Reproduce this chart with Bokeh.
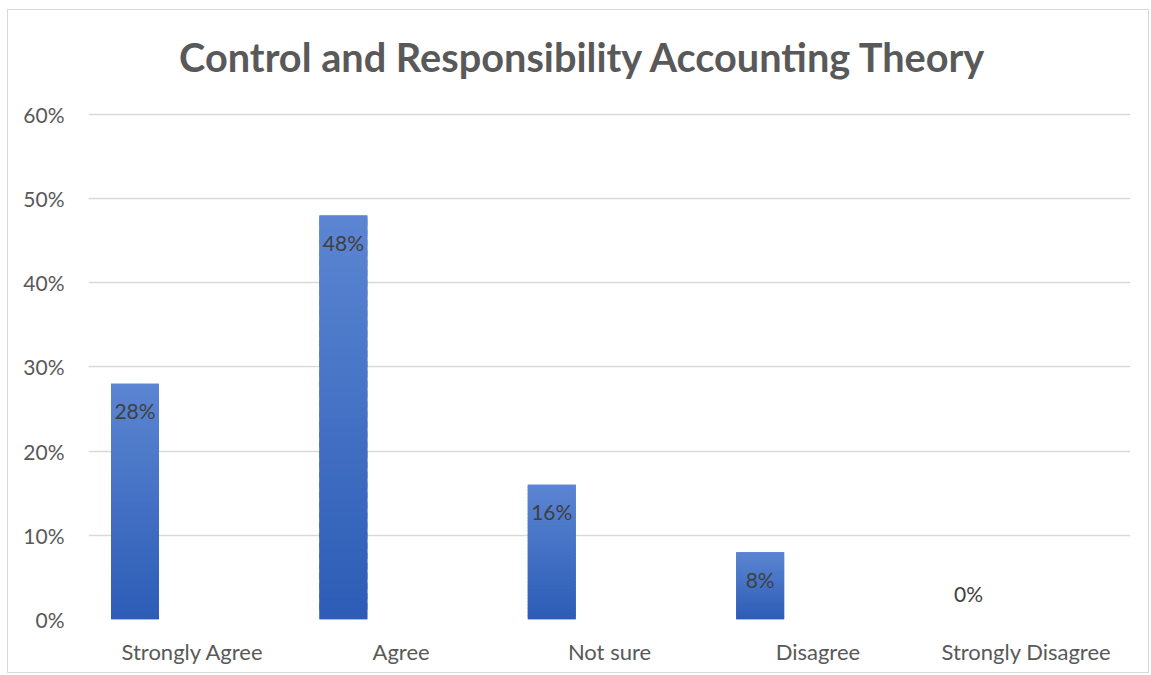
from bokeh.plotting import figure
from bokeh.models import ColumnDataSource, FixedTicker, NumeralTickFormatter, Label
from bokeh.transform import dodge
from bokeh.core.properties import value
from bokeh.embed import file_html
from bokeh.resources import INLINE

categories = ["Strongly Agree", "Agree", "Not sure", "Disagree", "Strongly Disagree"]
shares = [0.28, 0.48, 0.16, 0.08, 0.0]
labels = ["28%", "48%", "16%", "8%", "0%"]
y_ticks = [0.0, 0.1, 0.2, 0.3, 0.4, 0.5, 0.6]
title_text = "Control and Responsibility Accounting Theory"

FONT = "Lato"

# the frame extends up to hold the title; the value axis still shows 0%-60%
p = figure(
    x_range=categories, y_range=(0, 0.7188),
    width=1142, height=664,
    output_backend="svg", toolbar_location=None,
    min_border_left=80, min_border_right=20,
    min_border_top=4, min_border_bottom=55,
)
p.styles = {"margin-left": "7px", "margin-top": "9px", "border": "1px solid #d9d9d9"}
p.outline_line_color = None
p.background_fill_color = "white"
p.border_fill_color = "white"

# chart title, centred on the whole chart area
p.add_layout(Label(x=2.375, y=0.6685, text=title_text, text_align="center",
                   text_baseline="alphabetic", text_font=FONT, text_font_size="39.7px",
                   text_font_style="bold", text_color="#595959"))

top_c = (0x5C, 0x86, 0xD2)
bot_c = (0x2C, 0x5C, 0xB6)
base = ColumnDataSource(dict(cat=categories, top=shares))
p.vbar(x=dodge("cat", -0.277, range=p.x_range), bottom=0, top="top", width=0.23,
       source=base, fill_color="#4471C4", line_color=None)

# gradient bars: slices from each bar's bottom to top
N = 40
for i in range(N):
    f0, f1 = i / N, min(1.0, (i + 1.6) / N)
    fm = (i + 0.5) / N
    c = tuple(int(round(bot_c[k] + (top_c[k] - bot_c[k]) * fm)) for k in range(3))
    col = "#%02x%02x%02x" % c
    src = ColumnDataSource(dict(cat=categories,
                                bottom=[v * f0 for v in shares],
                                top=[v * f1 for v in shares]))
    p.vbar(x=dodge("cat", -0.277, range=p.x_range), bottom="bottom", top="top",
           width=0.23, source=src, fill_color=col, line_color=None)

lsrc = ColumnDataSource(dict(cat=categories, y=shares, text=labels,
                             off=[27 if v > 0 else -26 for v in shares]))
p.text(x=dodge("cat", -0.277, range=p.x_range), y="y", text="text", source=lsrc,
       y_offset="off", text_align="center", text_baseline="middle",
       text_font=value(FONT), text_font_size="21px", text_color="#404040")

p.yaxis.ticker = FixedTicker(ticks=y_ticks)
p.yaxis.formatter = NumeralTickFormatter(format="0%")
for ax in (p.xaxis[0], p.yaxis[0]):
    ax.axis_line_color = None
    ax.major_tick_line_color = None
    ax.minor_tick_line_color = None
    ax.major_label_text_font = FONT
    ax.major_label_text_color = "#595959"
p.yaxis.major_label_text_font_size = "21px"
p.xaxis.major_label_text_font_size = "22px"
p.yaxis.major_label_standoff = 18
p.xaxis.major_label_standoff = 12

p.xgrid.grid_line_color = None
p.ygrid.grid_line_color = "#d9d9d9"
p.ygrid.grid_line_width = 1.5
p.ygrid.ticker = FixedTicker(ticks=y_ticks)
p.x_range.range_padding = 0

open("out.html", "w").write(file_html(p, INLINE))
